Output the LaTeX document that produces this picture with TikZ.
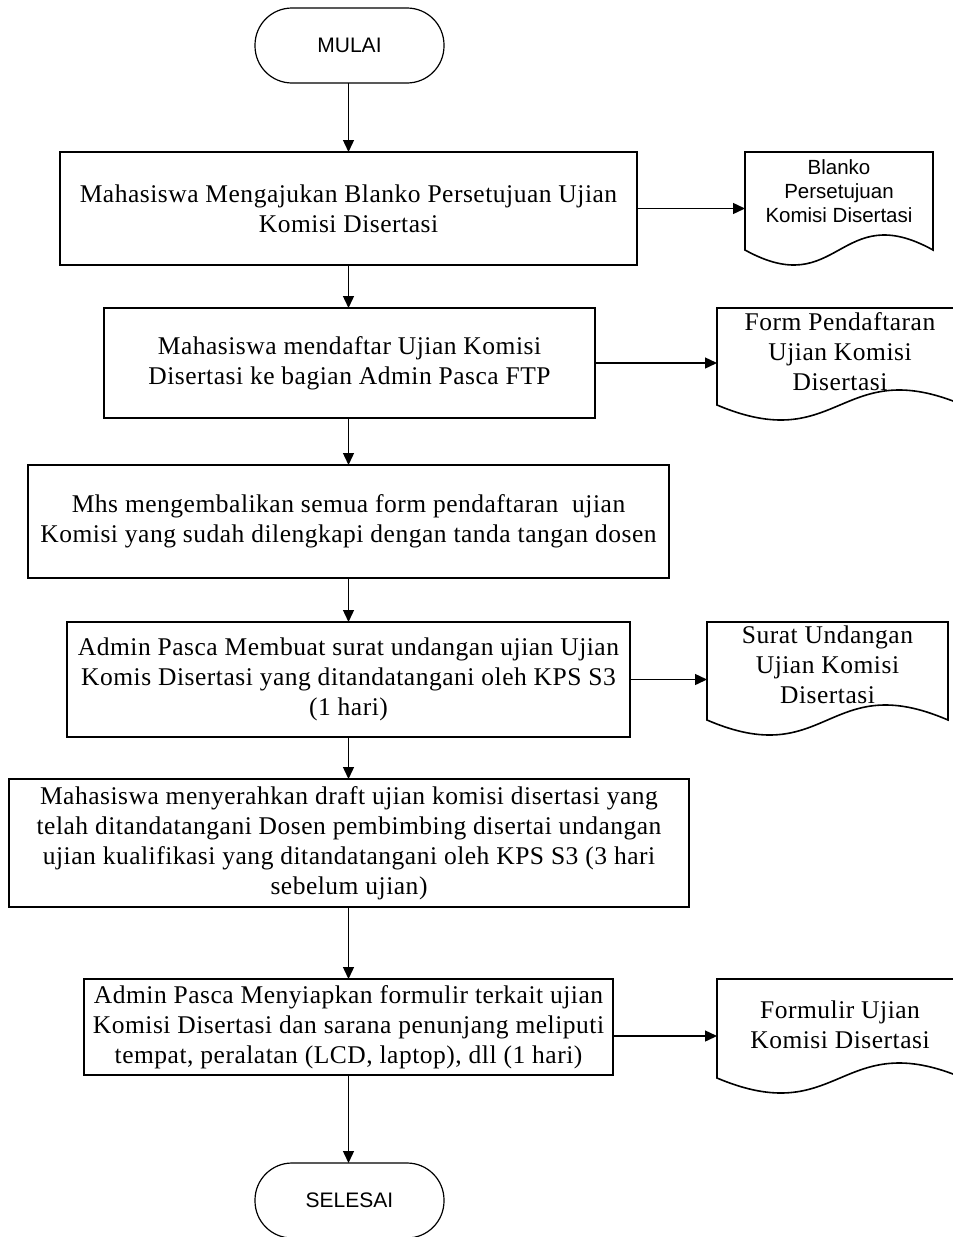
\documentclass[tikz,border=0pt]{standalone}
\usepackage{fontspec}
\setmainfont{Liberation Serif}[LetterSpace=2]
\newfontfamily\arialfont{Liberation Sans}
\usetikzlibrary{arrows.meta,calc}
\newcommand\docoutline[1]{%
  \draw[docline] (#1.north west) -- (#1.north east) -- ($(#1.south east)+(0,-15)$)
    .. controls ($(#1.south)+(0,-67)$) and ($(#1.south)+(0,37)$) .. ($(#1.south west)+(0,-15)$) -- cycle;}
\begin{document}
\begin{tikzpicture}[x=1pt,y=-1pt,
  box/.style={draw, line width=1.6pt, rectangle, align=center, inner sep=0pt, outer sep=0pt,
    font=\fontsize{25.5}{30}\selectfont},
  term/.style={draw, line width=1.2pt, rounded corners=37pt, minimum width=189pt,
    minimum height=75pt, inner sep=0pt, outer sep=0pt, font=\arialfont\fontsize{21}{25}\selectfont},
  docnode/.style={inner sep=0pt, outer sep=0pt},
  docline/.style={line width=1.6pt},
  serifdoc/.style={align=center, font=\fontsize{25.5}{30}\selectfont},
  sansdoc/.style={align=center, font=\arialfont\fontsize{20.5}{24}\selectfont},
  arr/.style={line width=1.4pt, -{Triangle[length=12pt,width=11pt]}}
]
\useasboundingbox (0,0) rectangle (953,1237);

\node[term] (start) at (349.5,45.5) {MULAI};

\node[box, minimum width=577pt, minimum height=113pt] (b1) at (348.5,208.5)
  {Mahasiswa Mengajukan Blanko Persetujuan Ujian\\Komisi Disertasi};
\node[box, minimum width=491pt, minimum height=110pt] (b2) at (349.5,363)
  {Mahasiswa mendaftar Ujian Komisi\\Disertasi ke bagian Admin Pasca FTP};
\node[box, minimum width=641pt, minimum height=113pt] (b3) at (348.5,521.5)
  {Mhs mengembalikan semua form pendaftaran\ \ ujian\\Komisi yang sudah dilengkapi dengan tanda tangan dosen};
\node[box, minimum width=563pt, minimum height=115pt] (b4) at (348.5,679.5)
  {Admin Pasca Membuat surat undangan ujian Ujian\\Komis Disertasi yang ditandatangani oleh KPS S3\\(1 hari)};
\node[box, minimum width=680pt, minimum height=128pt] (b5) at (349,843)
  {Mahasiswa menyerahkan draft ujian komisi disertasi yang\\telah ditandatangani Dosen pembimbing disertai undangan\\ujian kualifikasi yang ditandatangani oleh KPS S3 (3 hari\\sebelum ujian)};
\node[box, minimum width=529pt, minimum height=96pt] (b6) at (348.5,1027)
  {Admin Pasca Menyiapkan formulir terkait ujian\\Komisi Disertasi dan sarana penunjang meliputi\\tempat, peralatan (LCD, laptop), dll (1 hari)};

\node[term] (end) at (349.5,1200.5) {SELESAI};

% documents
\node[docnode, minimum width=188pt, minimum height=113pt,
  label={[sansdoc, yshift=17pt]center:{Blanko\\Persetujuan\\Komisi Disertasi}}] (d1) at (839,208.5) {};
\node[docnode, minimum width=246pt, minimum height=112pt,
  label={[serifdoc, yshift=12pt]center:{Form Pendaftaran\\Ujian Komisi\\Disertasi}}] (d2) at (840,364) {};
\node[docnode, minimum width=241pt, minimum height=113pt,
  label={[serifdoc, yshift=14pt]center:{Surat Undangan\\Ujian Komisi\\Disertasi}}] (d3) at (827.5,678.5) {};
\node[docnode, minimum width=246pt, minimum height=114pt,
  label={[serifdoc, yshift=11pt]center:{Formulir Ujian\\Komisi Disertasi}}] (d4) at (840,1036) {};
\docoutline{d1}
\docoutline{d2}
\docoutline{d3}
\docoutline{d4}

% connectors
\draw[arr] (start.south -| b1.north) -- (b1.north);
\draw[arr] (b1.south) -- (b1.south |- b2.north);
\draw[arr] (b2.south -| b1.south) -- (b3.north);
\draw[arr] (b3.south) -- (b4.north);
\draw[arr] (b4.south) -- (b4.south |- b5.north);
\draw[arr] (b5.south -| b4.south) -- (b6.north);
\draw[arr] (b6.south) -- (b6.south |- end.north);

\draw[arr] (b1.east) -- (d1.west);
\draw[arr] (b2.east) -- (b2.east -| d2.west);
\draw[arr] (b4.east) -- (b4.east -| d3.west);
\draw[arr] (d4.west -| b6.east) -- (d4.west);
\end{tikzpicture}
\end{document}
